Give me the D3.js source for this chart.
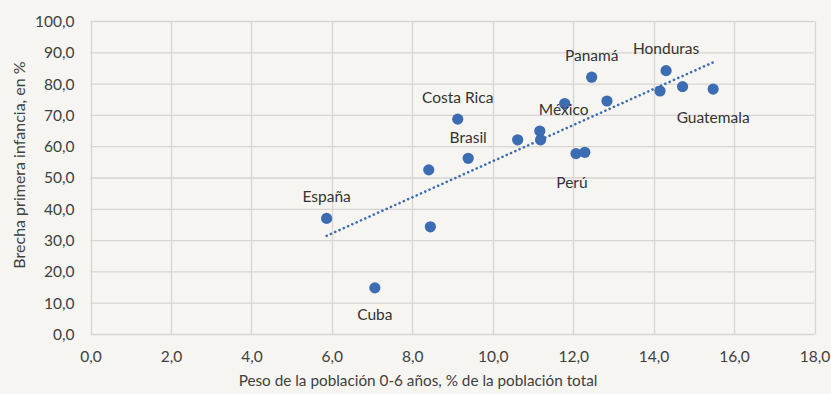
<!DOCTYPE html>
<html>
<head>
<meta charset="utf-8">
<script src="https://cdn.jsdelivr.net/npm/d3@7"></script>
<style>
  html, body { margin: 0; padding: 0; background: #f6f5f1; }
  svg { display: block; font-family: Lato, "Open Sans", sans-serif; }
</style>
</head>
<body>
<svg id="chart" width="831" height="394"></svg>
<script>
// Share of population aged 0-6 (% of total) vs early-childhood gap (%)
const countries = ["España", "Cuba", "", "", "Costa Rica", "Brasil", "", "", "", "México",
                   "Panamá", "", "Perú", "", "Honduras", "", "", "Guatemala"];
const pesoPoblacion = [5.87, 7.07, 8.45, 8.41, 9.13, 9.39, 10.62, 11.17, 11.19, 11.79,
                       12.46, 12.84, 12.07, 12.29, 14.31, 14.16, 14.72, 15.48];
const brecha = [37.1, 14.9, 34.4, 52.6, 68.8, 56.3, 62.2, 65.0, 62.2, 73.8,
                82.2, 74.6, 57.8, 58.2, 84.3, 77.8, 79.2, 78.4];
const xTicks = [0, 2, 4, 6, 8, 10, 12, 14, 16, 18];
const yTicks = [0, 10, 20, 30, 40, 50, 60, 70, 80, 90, 100];
const xTitle = "Peso de la población 0-6 años, % de la población total";
const yTitle = "Brecha primera infancia, en %";

// label offsets relative to each labelled point
const labelOffsets = {
  "España": [0, -22], "Cuba": [0, 26], "Costa Rica": [0, -22], "Brasil": [0, -21],
  "México": [-1, 5], "Panamá": [0, -22], "Honduras": [0, -23], "Guatemala": [0, 28],
  "Perú": [-4, 28]
};

const svg = d3.select("#chart");
const x = d3.scaleLinear().domain([0, 18]).range([90.5, 814.5]);
const y = d3.scaleLinear().domain([0, 100]).range([334.5, 21.5]);
const fmt = v => v.toFixed(1).replace(".", ",");
const gridColor = "#d6d5d2";
const textColor = "#404040";
const pointColor = "#3c6cb2";

// grid
svg.append("g").selectAll("line").data(xTicks).join("line")
  .attr("x1", d => Math.round(x(d)) + 0.5).attr("x2", d => Math.round(x(d)) + 0.5)
  .attr("y1", y(100)).attr("y2", y(0))
  .attr("stroke", gridColor).attr("stroke-width", 1.3);
svg.append("g").selectAll("line").data(yTicks).join("line")
  .attr("x1", x(0)).attr("x2", x(18))
  .attr("y1", d => y(d)).attr("y2", d => y(d))
  .attr("stroke", gridColor).attr("stroke-width", 1.3);

// axes (labels only, lines drawn as grid)
const xAxis = svg.append("g").attr("transform", `translate(0,${y(0)})`)
  .call(d3.axisBottom(x).tickValues(xTicks).tickFormat(fmt).tickSize(0).tickPadding(16));
const yAxis = svg.append("g").attr("transform", `translate(${x(0)},0)`)
  .call(d3.axisLeft(y).tickValues(yTicks).tickFormat(fmt).tickSize(0).tickPadding(16));
[xAxis, yAxis].forEach(a => {
  a.select(".domain").remove();
  a.selectAll("text").attr("fill", textColor).style("font-size", "15.5px")
    .style("font-family", "Lato, 'Open Sans', sans-serif");
});

// least-squares trend line over the observed range
const n = pesoPoblacion.length;
const mx = d3.mean(pesoPoblacion), my = d3.mean(brecha);
let sxy = 0, sxx = 0;
for (let i = 0; i < n; i++) {
  sxy += (pesoPoblacion[i] - mx) * (brecha[i] - my);
  sxx += (pesoPoblacion[i] - mx) ** 2;
}
const slope = sxy / sxx, intercept = my - slope * mx;
const [x0, x1] = d3.extent(pesoPoblacion);
svg.append("line")
  .attr("x1", x(x0)).attr("y1", y(intercept + slope * x0))
  .attr("x2", x(x1)).attr("y2", y(intercept + slope * x1))
  .attr("stroke", pointColor).attr("stroke-width", 2.6)
  .attr("stroke-dasharray", "0.1 4.6").attr("stroke-linecap", "round");

// points
svg.append("g").selectAll("circle").data(pesoPoblacion).join("circle")
  .attr("cx", d => x(d)).attr("cy", (d, i) => y(brecha[i]))
  .attr("r", 5.6).attr("fill", pointColor);

// country labels
svg.append("g").selectAll("text")
  .data(countries.map((c, i) => ({ c, i })).filter(d => d.c))
  .join("text")
  .attr("x", d => x(pesoPoblacion[d.i]) + labelOffsets[d.c][0])
  .attr("y", d => y(brecha[d.i]) + labelOffsets[d.c][1])
  .attr("text-anchor", "middle").attr("dominant-baseline", "central")
  .attr("fill", "#333").style("font-size", "15.5px")
  .text(d => d.c);

// axis titles
svg.append("text").attr("x", 418).attr("y", 386)
  .attr("text-anchor", "middle").attr("fill", textColor).style("font-size", "15.3px")
  .text(xTitle);
svg.append("text").attr("transform", "translate(18,165) rotate(-90)")
  .attr("text-anchor", "middle").attr("dominant-baseline", "central")
  .attr("fill", textColor).style("font-size", "16px")
  .text(yTitle);
</script>
</body>
</html>
